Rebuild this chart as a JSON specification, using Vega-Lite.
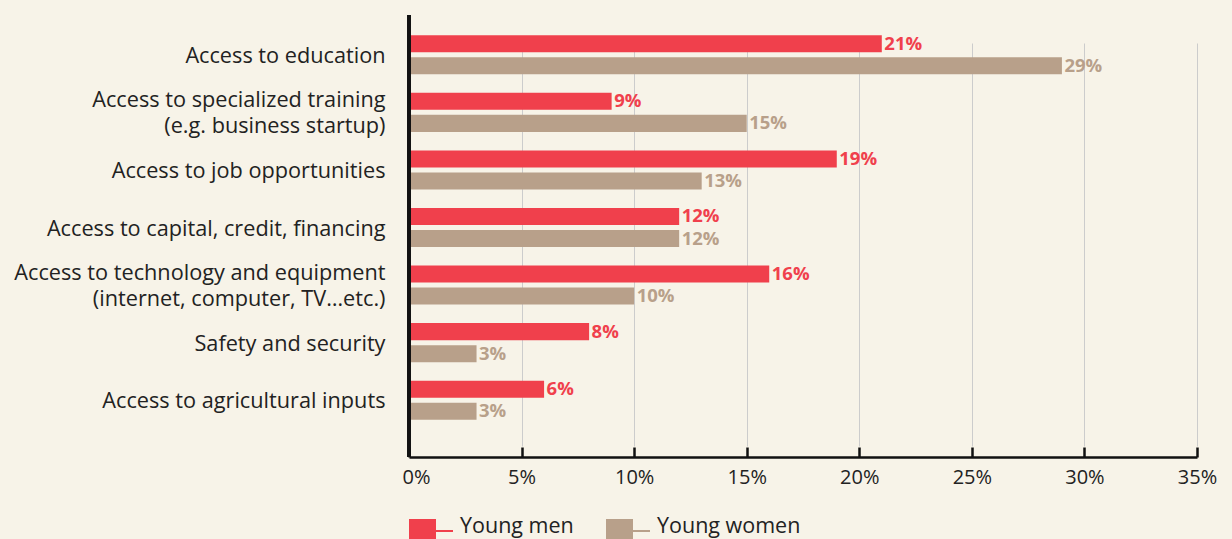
{
  "$schema": "https://vega.github.io/schema/vega-lite/v6.json",
  "width": 788,
  "height": 442,
  "autosize": {"type": "none"},
  "padding": {"left": 409, "top": 15, "right": 35, "bottom": 82},
  "background": "#f7f3e8",
  "config": {
    "view": {"stroke": null},
    "font": "Open Sans",
    "axis": {"labelFont": "Open Sans", "labelColor": "#222222"},
    "legend": {"labelFont": "Open Sans"}
  },
  "data": {
    "values": [
      {"category": "Access to education", "group": "Young men", "value": 0.21},
      {"category": "Access to education", "group": "Young women", "value": 0.29},
      {"category": "Access to specialized training|(e.g. business startup)", "group": "Young men", "value": 0.09},
      {"category": "Access to specialized training|(e.g. business startup)", "group": "Young women", "value": 0.15},
      {"category": "Access to job opportunities", "group": "Young men", "value": 0.19},
      {"category": "Access to job opportunities", "group": "Young women", "value": 0.13},
      {"category": "Access to capital, credit, financing", "group": "Young men", "value": 0.12},
      {"category": "Access to capital, credit, financing", "group": "Young women", "value": 0.12},
      {"category": "Access to technology and equipment|(internet, computer, TV…etc.)", "group": "Young men", "value": 0.16},
      {"category": "Access to technology and equipment|(internet, computer, TV…etc.)", "group": "Young women", "value": 0.10},
      {"category": "Safety and security", "group": "Young men", "value": 0.08},
      {"category": "Safety and security", "group": "Young women", "value": 0.03},
      {"category": "Access to agricultural inputs", "group": "Young men", "value": 0.06},
      {"category": "Access to agricultural inputs", "group": "Young women", "value": 0.03}
    ]
  },
  "encoding": {
    "y": {
      "field": "category",
      "type": "nominal",
      "sort": null,
      "title": null,
      "scale": {"range": [11, 414], "paddingInner": 0, "paddingOuter": 0},
      "axis": {
        "domain": false,
        "ticks": false,
        "grid": false,
        "labelFontSize": 21.7,
        "labelPadding": 24,
        "labelLineHeight": 26,
        "labelLimit": 500,
        "labelOffset": {"condition": {"test": "indexof(datum.value, '|') >= 0", "value": -12}, "value": 1},
        "labelExpr": "split(datum.label, '|')"
      }
    },
    "yOffset": {
      "field": "group",
      "type": "nominal",
      "sort": ["Young men", "Young women"],
      "scale": {"paddingInner": 0.227, "paddingOuter": 0.42}
    },
    "x": {
      "field": "value",
      "type": "quantitative",
      "title": null,
      "scale": {"domain": [0, 0.35], "nice": false, "zero": true},
      "axis": {
        "format": ".0%",
        "values": [0, 0.05, 0.1, 0.15, 0.2, 0.25, 0.3, 0.35],
        "grid": true,
        "gridColor": "#cccccc",
        "gridWidth": 1,
        "domain": true,
        "domainColor": "#111111",
        "domainWidth": 2.5,
        "ticks": true,
        "tickColor": "#111111",
        "tickWidth": 2.5,
        "tickSize": -10,
        "labelFontSize": 20,
        "labelPadding": 20,
        "labelFlush": false,
        "labelOffset": {"condition": {"test": "datum.value == 0", "value": 7}, "value": 0}
      }
    },
    "color": {
      "field": "group",
      "type": "nominal",
      "scale": {"domain": ["Young men", "Young women"], "range": ["#f0404c", "#b8a08a"]}
    }
  },
  "layer": [
    {
      "mark": {"type": "bar"},
      "encoding": {
        "color": {
          "field": "group",
          "type": "nominal",
          "scale": {"domain": ["Young men", "Young women"], "range": ["#f0404c", "#b8a08a"]},
          "legend": {
            "title": null,
            "orient": "none",
            "legendX": 0,
            "legendY": 490,
            "direction": "horizontal",
            "symbolType": "M-1,-0.36H0.227V0.86H-1Z M0.227,0.13H1V0.23H0.227Z",
            "symbolSize": 1936,
            "symbolStrokeWidth": 0,
            "symbolOpacity": 1,
            "labelFontSize": 21.5,
            "labelColor": "#222222",
            "labelOffset": 7,
            "columnPadding": 32
          }
        }
      }
    },
    {
      "mark": {"type": "text", "align": "left", "baseline": "middle", "dx": 2.5, "fontWeight": "bold", "fontSize": 18.5},
      "encoding": {
        "text": {"field": "value", "type": "quantitative", "format": ".0%"},
        "color": {"field": "group", "type": "nominal", "legend": null}
      }
    },
    {
      "mark": {"type": "rule", "color": "#111111", "strokeWidth": 2.5},
      "encoding": {"x": {"datum": 0}, "y": null, "yOffset": null, "color": null}
    }
  ]
}
